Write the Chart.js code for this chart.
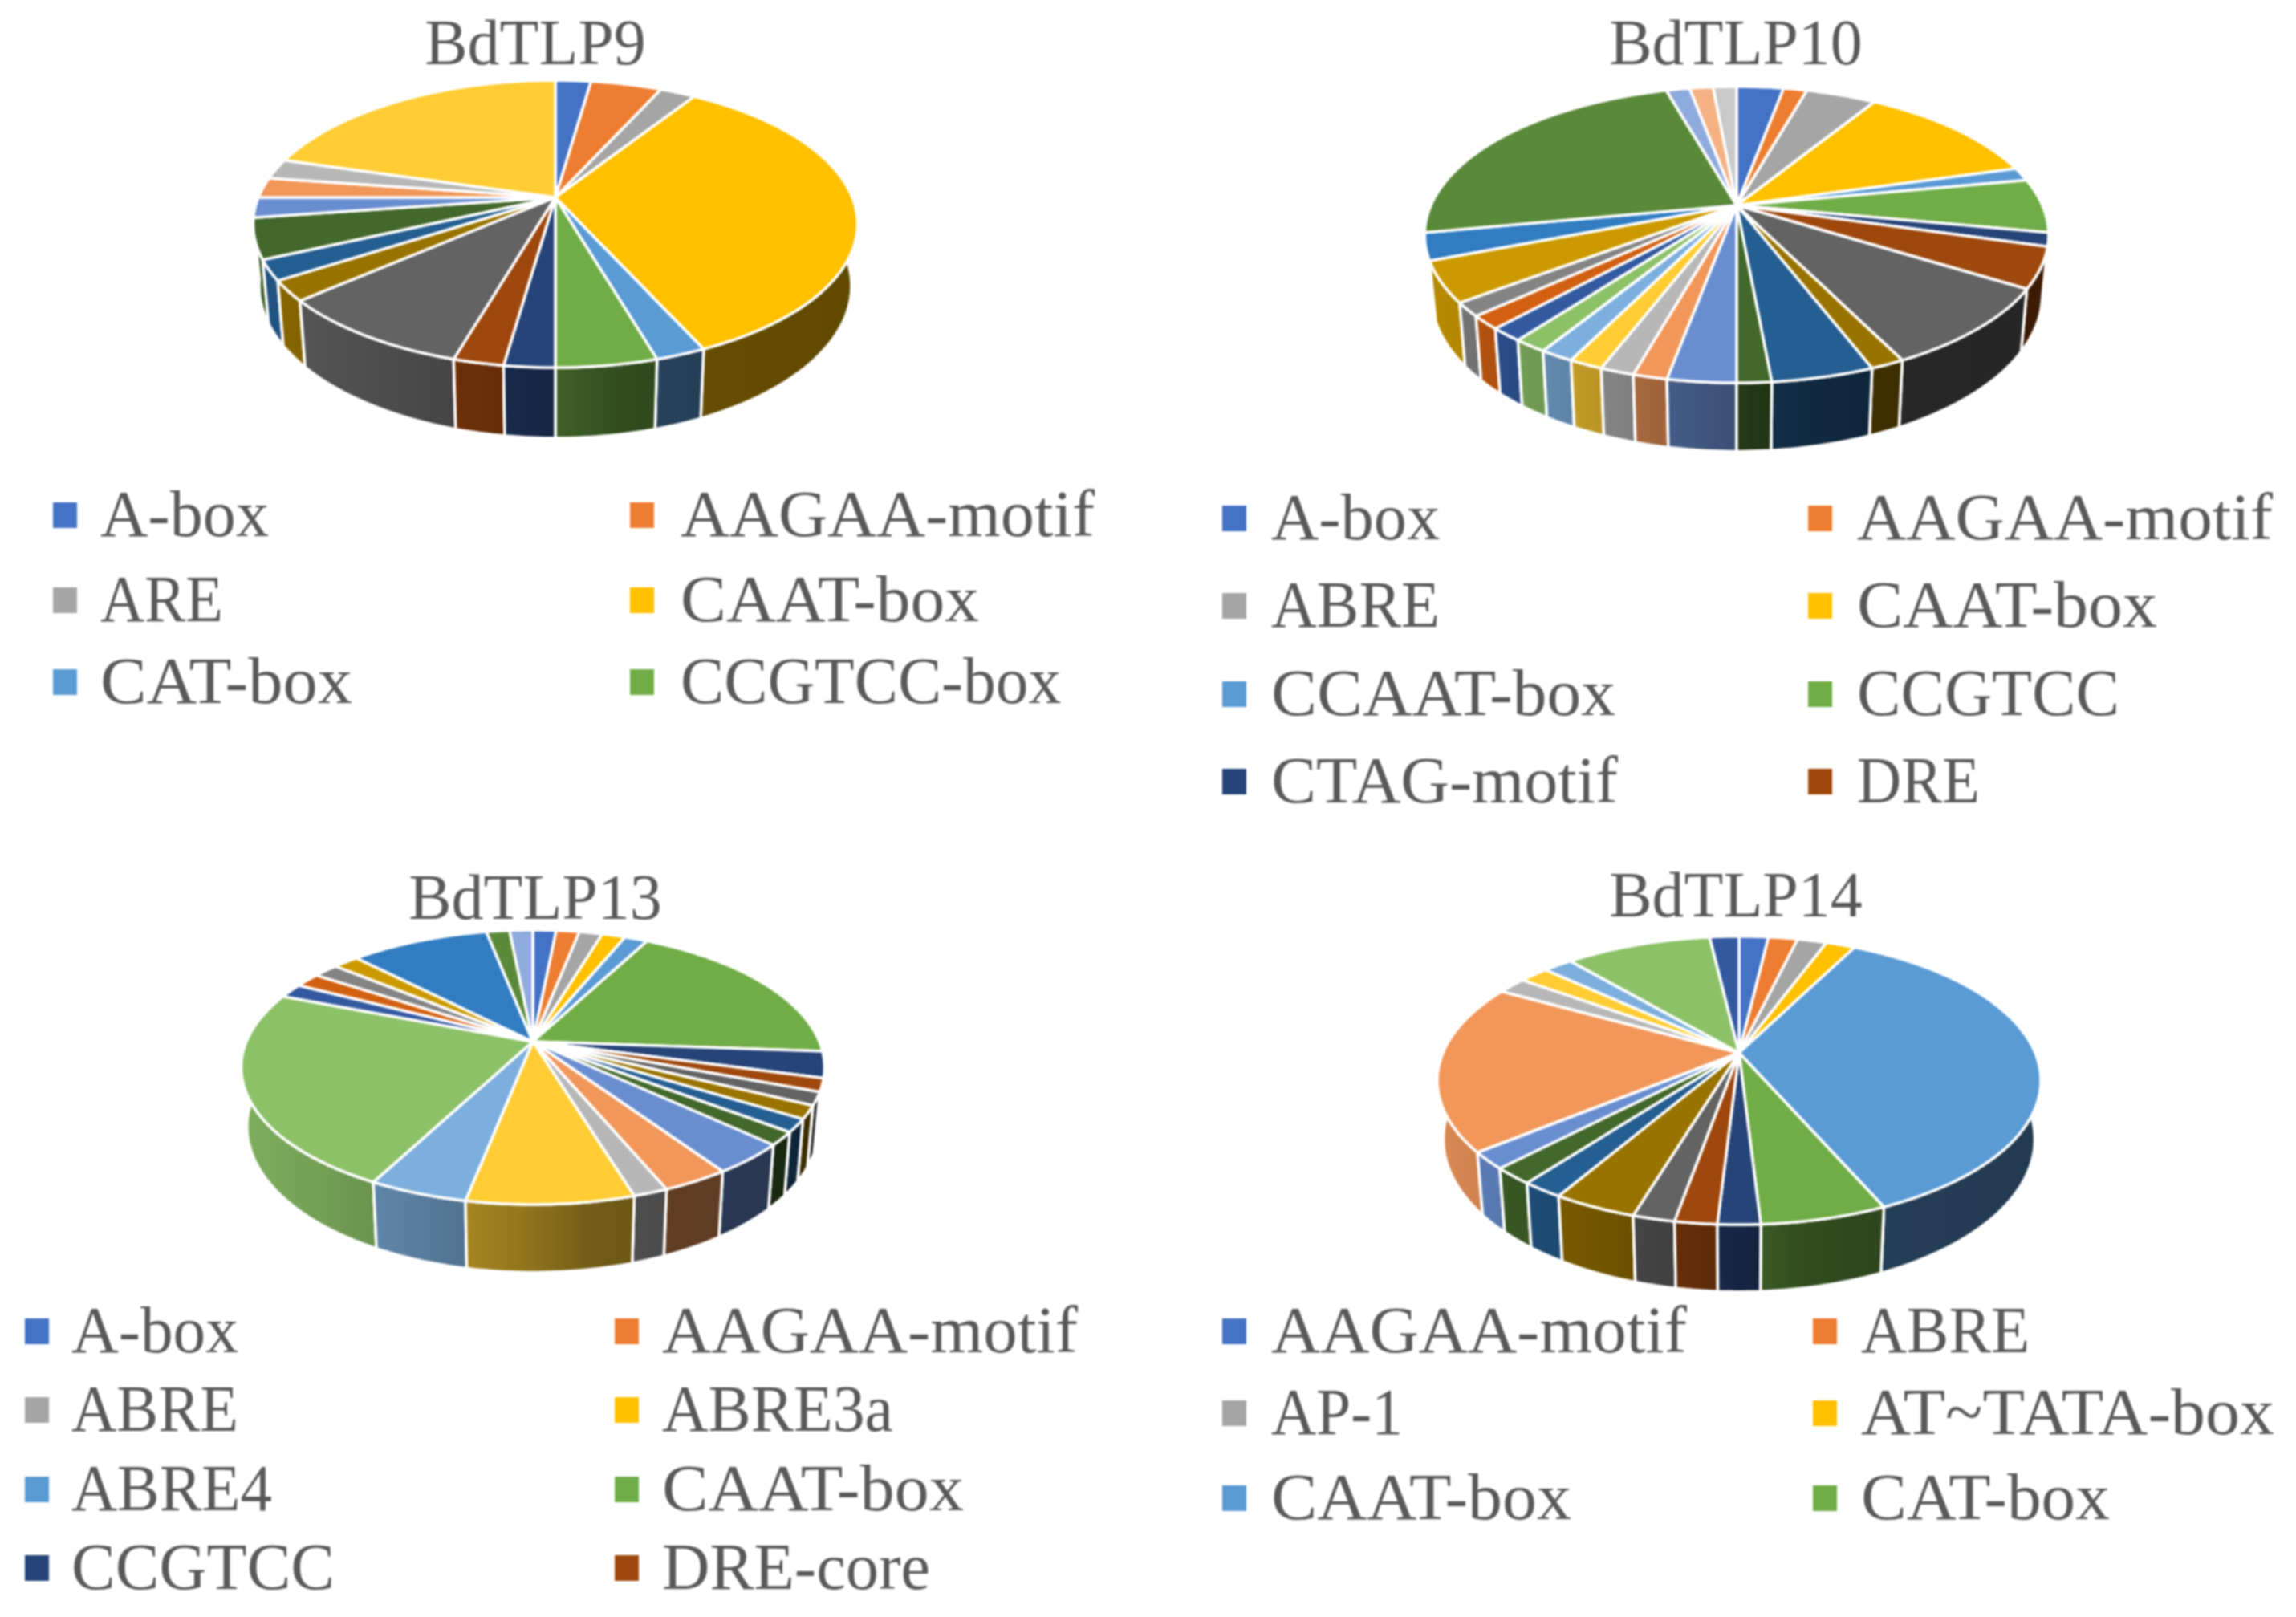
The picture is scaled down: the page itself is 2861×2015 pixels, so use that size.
<!DOCTYPE html>
<html>
<head>
<meta charset="utf-8">
<script src="https://cdn.jsdelivr.net/npm/chart.js@4"></script>
<style>
html,body{margin:0;padding:0;background:#fff;width:2861px;height:2015px;overflow:hidden}
canvas{position:absolute;filter:blur(0.9px)}
</style>
</head>
<body>
<script>
// ---------- data ----------
const palette = ['#4472C4','#ED7D31','#A5A5A5','#FFC000','#5B9BD5','#70AD47','#264478','#9E480E','#636363','#997300','#255E91','#43682B','#698ED0','#F1975A','#B7B7B7','#FFCD33','#7CAFDD','#8CC168','#335AA1','#D26012','#848484','#CC9A00','#327DC2','#5A8A39','#8FAADC','#F4B183','#C9C9C9'];

const titles = ['BdTLP9','BdTLP10','BdTLP13','BdTLP14'];

const labels9  = ['A-box','AAGAA-motif','ARE','CAAT-box','CAT-box','CCGTCC-box'];
const labels10 = ['A-box','AAGAA-motif','ABRE','CAAT-box','CCAAT-box','CCGTCC','CTAG-motif','DRE'];
const labels13 = ['A-box','AAGAA-motif','ABRE','ABRE3a','ABRE4','CAAT-box','CCGTCC','DRE-core'];
const labels14 = ['AAGAA-motif','ABRE','AP-1','AT~TATA-box','CAAT-box','CAT-box'];

const values9  = [1,2,1,15,1,2,1,1,4,1,1,2,1,1,1,9];
const values10 = [2,1,3,8,1,4,1,3,6,1,3,1,2,1,1,1,1,1,1,1,1,3,2,16,1,1,1];
const values13 = [1,1,1,1,1,12,2,1,1,1,1,1,2.35,2.05,1.05,5.05,3,15.1,1.1,1.1,1.1,1.1,6,1,1];
const values14 = [1,1,1,1,19,3,1,1,1,2,1,1,1,10,1,1,1,5,1];

// ---------- layout (page pixels) ----------
const layouts = [
  {left:0,   top:0,    w:1460, h:1040, padRight:126, pad:19, x0:692,  y0:246,  p:.185, a:172.8, b:370, h3d:75, cols:[[66,125],[785,848]],   rows:[642,748,850],
   textW:[210,516,153,372,314,474]},
  {left:1473,top:0,    w:1388, h:1040, padRight:8,   pad:19, x0:2164, y0:256,  p:.198, a:177.3, b:381, h3d:72, cols:[[1523,1584],[2253,2314]], rows:[646,755,865,974],
   textW:[210,518,210,374,429,327,432,153]},
  {left:0,   top:1040, w:1460, h:975,  padRight:126, pad:44, x0:664,  y0:1298, p:.187, a:165,   b:357, h3d:72, cols:[[31,89],[766,825]],    rows:[1659,1757,1856,1954],
   textW:[208,518,208,288,250,376,328,334]},
  {left:1473,top:1040, w:1388, h:975,  padRight:8,   pad:41, x0:2167, y0:1312, p:.192, a:173,   b:369, h3d:71, cols:[[1523,1584],[2259,2319]], rows:[1659,1761,1867],
   textW:[518,210,164,515,374,310]}
];
const textColor = '#595959';
const fontFamily = '"Liberation Serif", serif';

// wall brightness: bright on the left of the disc, dark on the right
const shadeStops = [[-1,.9],[-.6,.78],[-.3,.68],[0,.56],[.2,.45],[.5,.40],[1,.38]];
function shadeAt(t){
  for(let i=1;i<shadeStops.length;i++){
    if(t<=shadeStops[i][0]){
      const [a,sa]=shadeStops[i-1],[b,sb]=shadeStops[i];
      return sa+(sb-sa)*(t-a)/(b-a);
    }
  }
  return .38;
}
function shaded(hex,s){
  const n=parseInt(hex.slice(1),16);
  return `rgb(${Math.round((n>>16&255)*s)},${Math.round((n>>8&255)*s)},${Math.round((n&255)*s)})`;
}

// Draws the arcs that the pie controller computed, tilted in perspective.
function pie3dPlugin(g,names){
  const pt=(alpha,lower)=>{
    const u=Math.cos(alpha),v=Math.sin(alpha),w=1-g.p*v,s=lower?.98:1;
    return {x:g.x0+s*g.b*u/w, y:g.y0+s*g.a*v/w+(lower?g.h3d/w:0)};
  };
  const STEP=Math.PI/180;
  return {
    id:'pie3d',
    beforeDatasetsDraw(chart){
      const ctx=chart.ctx, arcs=chart.getDatasetMeta(0).data, colors=chart.data.datasets[0].backgroundColor;
      ctx.save();
      ctx.translate(-g.left,-g.top);
      ctx.lineJoin='round';
      // side walls, far segments first
      const walls=[];
      arcs.forEach((arc,i)=>{
        let run=[];
        const flush=()=>{ if(run.length>1) walls.push({i,run,depth:Math.sin((run[0]+run[run.length-1])/2)}); run=[]; };
        const n=Math.max(2,Math.ceil((arc.endAngle-arc.startAngle)/STEP));
        for(let k=0;k<=n;k++){
          const al=arc.startAngle+(arc.endAngle-arc.startAngle)*k/n;
          if(Math.sin(al)>-.35) run.push(al); else flush();
        }
        flush();
      });
      walls.sort((a,b)=>a.depth-b.depth);
      walls.forEach(({i,run})=>{
        const top=run.map(al=>pt(al,false)), bot=run.map(al=>pt(al,true));
        const xs=top.concat(bot).map(p=>p.x), xa=Math.min(...xs), xb=Math.max(...xs);
        const grad=ctx.createLinearGradient(xa,0,xb,0);
        for(let k=0;k<=8;k++){
          const x=xa+(xb-xa)*k/8;
          grad.addColorStop(k/8,shaded(colors[i%colors.length],shadeAt((x-g.x0)/g.b)));
        }
        ctx.beginPath();
        top.forEach((p,k)=>k?ctx.lineTo(p.x,p.y):ctx.moveTo(p.x,p.y));
        bot.reverse().forEach(p=>ctx.lineTo(p.x,p.y));
        ctx.closePath();
        ctx.fillStyle=grad; ctx.fill();
        ctx.strokeStyle='#fff'; ctx.lineWidth=3.5; ctx.stroke();
      });
      // top face
      arcs.forEach((arc,i)=>{
        const n=Math.max(2,Math.ceil((arc.endAngle-arc.startAngle)/STEP));
        ctx.beginPath();
        ctx.moveTo(g.x0,g.y0);
        for(let k=0;k<=n;k++){
          const p=pt(arc.startAngle+(arc.endAngle-arc.startAngle)*k/n,false);
          ctx.lineTo(p.x,p.y);
        }
        ctx.closePath();
        ctx.fillStyle=colors[i%colors.length]; ctx.fill();
        ctx.strokeStyle='#fff'; ctx.lineWidth=3.5; ctx.stroke();
      });
      ctx.restore();
      return false;
    },
    afterDraw(chart){
      const ctx=chart.ctx, colors=chart.data.datasets[0].backgroundColor;
      ctx.save();
      ctx.translate(-g.left,-g.top);
      ctx.font=`82px ${fontFamily}`;
      ctx.textBaseline='alphabetic';
      names.forEach((name,i)=>{
        const c=g.cols[i%2], y=g.rows[Math.floor(i/2)];
        ctx.fillStyle=colors[i];
        ctx.fillRect(c[0],y-16,30,32);
        ctx.fillStyle=textColor;
        const sx=g.textW[i]/ctx.measureText(name).width;
        ctx.save();
        ctx.translate(c[1],y+26);
        ctx.scale(sx,1);
        ctx.fillText(name,0,0);
        ctx.restore();
      });
      ctx.restore();
    }
  };
}

function makeChart(idx,names,values){
  const g=layouts[idx];
  const cv=document.createElement('canvas');
  cv.width=g.w; cv.height=g.h;
  cv.style.left=g.left+'px'; cv.style.top=g.top+'px';
  cv.style.width=g.w+'px'; cv.style.height=g.h+'px';
  document.body.appendChild(cv);
  return new Chart(cv.getContext('2d'),{
    type:'pie',
    data:{labels:names,datasets:[{data:values,backgroundColor:palette.slice(0,values.length)}]},
    options:{
      responsive:false,animation:false,devicePixelRatio:1,
      layout:{padding:{right:g.padRight}},
      plugins:{
        legend:{display:false},
        tooltip:{enabled:false},
        title:{display:true,text:titles[idx],color:textColor,
               font:{family:fontFamily,size:80,weight:'normal',lineHeight:1},
               padding:{top:g.pad,bottom:0}}
      }
    },
    plugins:[pie3dPlugin(g,names)]
  });
}
makeChart(0,labels9,values9);
makeChart(1,labels10,values10);
makeChart(2,labels13,values13);
makeChart(3,labels14,values14);
</script>
</body>
</html>
